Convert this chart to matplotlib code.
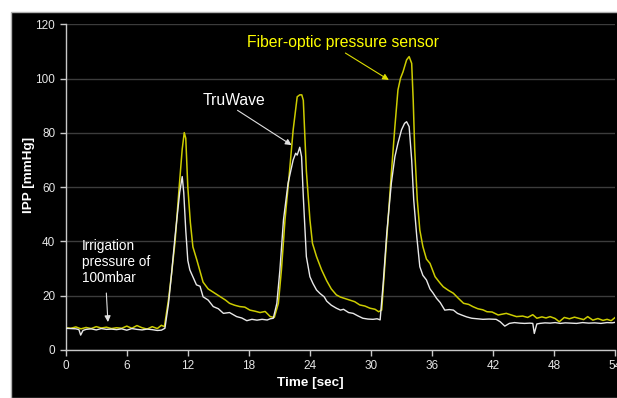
import matplotlib
matplotlib.use("Agg")
import matplotlib.pyplot as plt
from matplotlib.patches import Rectangle
import numpy as np

plt.rcParams["font.family"] = ["Liberation Sans", "DejaVu Sans"]

# Fiber-optic pressure sensor (yellow)
t_fiber = [
    0.0, 0.5, 1.0, 1.5, 2.0, 2.5, 3.0, 3.5, 4.0, 4.5,
    5.0, 5.5, 6.0, 6.5, 7.0, 7.5, 8.0, 8.5, 9.0, 9.4,
    9.7, 10.1, 10.4, 10.75, 11.15, 11.45, 11.65, 11.8, 12.0, 12.25,
    12.5, 12.9, 13.5, 14.0, 14.5, 15.2, 15.7, 16.1, 16.6, 17.1,
    17.6, 18.1, 18.6, 19.1, 19.6, 20.1, 20.5, 20.9, 21.2, 21.55,
    22.0, 22.35, 22.75, 23.0, 23.2, 23.35, 23.65, 24.0, 24.25, 24.65,
    25.15, 25.65, 26.1, 26.6, 27.0, 27.5, 27.9, 28.4, 28.9, 29.4,
    29.9, 30.4, 30.75, 31.05, 31.35, 31.7, 32.0, 32.35, 32.65, 32.9,
    33.15, 33.5, 33.75, 34.0, 34.15, 34.3, 34.55, 34.8, 35.1, 35.45,
    35.8, 36.3, 36.8, 37.1, 37.6, 38.1, 38.6, 39.1, 39.6, 40.0,
    40.5, 41.0, 41.4, 41.9, 42.5, 43.0, 43.3, 43.8, 44.3, 44.9,
    45.4, 45.9, 46.3, 46.8, 47.2, 47.6, 48.1, 48.5, 49.0, 49.5,
    50.0, 50.4, 50.9, 51.3, 51.8, 52.3, 52.8, 53.2, 53.6, 54.0,
]
p_fiber = [
    8.2, 8.0, 8.5, 7.8, 8.3, 7.9, 8.6, 8.1, 8.4, 7.9,
    8.2, 8.0, 8.8, 8.0, 9.0, 8.2, 7.7, 8.6, 7.9, 9.1,
    8.6, 18.5, 28.0, 40.0, 60.0, 74.0, 80.1, 78.0, 60.0, 47.0,
    38.0, 33.0, 25.0, 22.5, 21.3, 19.6, 18.4, 17.2, 16.5, 16.0,
    15.8, 14.7, 14.3, 13.8, 14.2, 12.3, 12.0, 17.2, 29.5, 47.9,
    66.0, 81.0, 93.3, 94.0, 94.0, 92.0, 66.0, 48.0, 39.3, 34.4,
    29.5, 25.5, 22.5, 20.3, 19.5, 18.9, 18.4, 17.8, 16.6, 16.2,
    15.4, 15.0, 14.1, 14.7, 30.7, 49.0, 65.0, 82.3, 95.8, 100.1,
    102.5, 106.9, 108.1, 105.6, 92.0, 73.7, 55.3, 44.2, 38.1, 33.5,
    31.9, 27.0, 24.6, 23.3, 22.0, 20.9, 19.0, 17.2, 16.8, 16.0,
    15.2, 14.8, 14.1, 14.0, 12.9, 13.3, 13.5, 12.9, 12.3, 12.5,
    12.0, 13.0, 11.7, 12.2, 11.8, 12.3, 11.6, 10.4, 12.0, 11.5,
    12.1, 11.7, 11.2, 12.3, 11.0, 11.6, 10.9, 11.3, 10.8, 12.0,
]

# TruWave (white)
t_tru = [
    0.0, 0.5, 1.0, 1.3, 1.47, 1.7, 2.0, 2.5, 3.0, 3.5,
    4.0, 4.5, 5.0, 5.5, 6.0, 6.5, 7.0, 7.5, 8.0, 8.5,
    9.0, 9.4, 9.75, 10.1, 10.4, 10.75, 11.2, 11.45, 11.6, 11.8,
    12.0, 12.2, 12.5, 12.85, 13.2, 13.5, 14.0, 14.5, 15.0, 15.5,
    16.1, 16.8, 17.3, 17.8, 18.3, 18.8, 19.3, 19.8, 20.1, 20.4,
    20.75, 21.05, 21.4, 21.85, 22.35, 22.6, 22.75, 23.0, 23.18, 23.35,
    23.65, 24.0, 24.3, 24.65, 25.0, 25.4, 25.65, 26.1, 26.6, 27.0,
    27.3, 27.8, 28.25, 28.7, 29.2, 29.7, 30.2, 30.6, 30.9, 31.2,
    31.55, 32.0, 32.35, 32.65, 33.0, 33.3, 33.5, 33.75, 34.0, 34.2,
    34.5, 34.8, 35.1, 35.45, 35.8, 36.1, 36.45, 36.8, 37.25, 37.7,
    38.1, 38.5, 38.9, 39.4, 39.9, 40.5, 41.0, 41.6, 42.3, 42.7,
    43.15, 43.6, 44.1, 44.6, 45.1, 45.6, 45.9, 46.05, 46.3, 46.6,
    47.1, 47.6, 48.1, 48.6, 49.1, 49.6, 50.2, 50.8, 51.4, 52.0,
    52.6, 53.2, 53.7, 54.0,
]
p_tru = [
    8.0, 7.9, 7.8, 7.5, 5.5, 7.2, 7.6, 7.8, 7.4, 7.9,
    7.6, 7.7, 7.5, 7.8, 7.3, 7.9, 7.6, 7.4, 7.7, 7.5,
    7.2, 7.3, 8.0, 17.0, 28.0, 42.0, 58.0, 63.9, 58.0, 44.0,
    33.0, 29.5, 27.0, 24.0, 23.5, 19.6, 18.4, 16.0, 15.2, 13.5,
    13.8, 12.3, 11.8, 10.8, 11.3, 11.0, 11.3, 11.05, 11.5, 11.7,
    17.2, 29.5, 47.9, 61.4, 70.0, 72.5, 71.8, 74.7, 71.2, 56.5,
    34.4, 27.0, 24.5, 22.1, 20.8, 19.6, 18.0, 16.5, 15.4, 14.7,
    15.0, 13.8, 13.5, 12.6, 11.7, 11.4, 11.3, 11.5, 11.1, 24.6,
    43.0, 61.4, 71.2, 76.2, 81.1, 83.5, 84.1, 82.3, 70.0, 55.3,
    41.8, 30.7, 27.5, 25.8, 22.5, 21.0, 19.0, 17.5, 14.7, 14.9,
    14.7, 13.5, 12.9, 12.2, 11.7, 11.5, 11.3, 11.4, 11.3, 10.4,
    8.8, 9.8, 10.1, 9.9, 9.8, 9.9, 9.8, 6.1, 9.6, 9.8,
    10.0, 9.9, 10.1, 9.8, 10.0, 9.9, 9.8, 10.1, 9.9, 10.0,
    9.8, 10.1, 10.0, 10.2,
]

x_ticks = [0, 6, 12, 18, 24, 30, 36, 42, 48, 54]
y_ticks = [0, 20, 40, 60, 80, 100, 120]

W, H = 617, 398
fig = plt.figure(figsize=(W / 100, H / 100), dpi=100)
fig.patch.set_facecolor("white")
# black panel behind the chart
fig.patches.append(Rectangle((11 / W, 0), 1, (H - 12) / H, transform=fig.transFigure,
                             facecolor="black", edgecolor="#b0b0b0", linewidth=1.0, zorder=-10))

ax = fig.add_axes([65.7 / W, 48 / H, (615.2 - 65.7) / W, (350 - 24.3) / H])
ax.set_facecolor("black")

ax.plot(t_tru, p_tru, color="#e8e8e8", linewidth=1.0, zorder=3)
ax.plot(t_fiber, p_fiber, color="#cccc00", linewidth=1.1, zorder=2)

ax.set_xlim(0, 54)
ax.set_ylim(0, 120)
ax.set_xticks(x_ticks)
ax.set_yticks(y_ticks)
ax.grid(axis="y", color="#3c3c3c", linewidth=1.0)
ax.set_axisbelow(True)
for s in ["top", "right"]:
    ax.spines[s].set_visible(False)
for s in ["left", "bottom"]:
    ax.spines[s].set_color("#c8c8c8")
    ax.spines[s].set_linewidth(1.0)
ax.tick_params(colors="#c8c8c8", labelcolor="#e6e6e6", labelsize=8.5, length=4, width=1.0)

ax.set_xlabel("Time [sec]", color="white", fontsize=9.7, fontweight="bold")
ax.set_ylabel("IPP [mmHg]", color="white", fontsize=9.7, fontweight="bold")
ax.xaxis.set_label_coords(0.4446, -0.083)
ax.yaxis.set_label_coords(-0.055, 0.537)

ax.annotate("Fiber-optic pressure sensor", xy=(31.76, 99.5), xytext=(17.8, 113.2),
            color="#ffff00", fontsize=11.3, va="center", ha="left",
            arrowprops=dict(arrowstyle="-|>", color="#dddd00", lw=0.8,
                            mutation_scale=9, shrinkA=0, shrinkB=0,
                            relpos=(0.49, 0)))
ax.annotate("TruWave", xy=(22.2, 75.5), xytext=(13.5, 92.1),
            color="white", fontsize=11.3, va="center", ha="left",
            arrowprops=dict(arrowstyle="-|>", color="#e0e0e0", lw=0.8,
                            mutation_scale=9, shrinkA=0, shrinkB=0,
                            relpos=(0.48, 0)))
ax.annotate("Irrigation\npressure of\n100mbar", xy=(4.15, 10.3), xytext=(1.6, 32.4),
            color="white", fontsize=9.8, va="center", ha="left", linespacing=1.15,
            arrowprops=dict(arrowstyle="-|>", color="#e0e0e0", lw=0.8,
                            mutation_scale=9, shrinkA=4, shrinkB=0,
                            relpos=(0.35, 0)))

fig.savefig("out.png", dpi=100, facecolor=fig.get_facecolor())
